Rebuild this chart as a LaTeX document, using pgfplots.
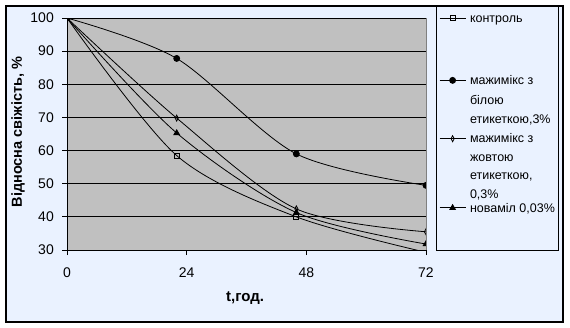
\documentclass[border=0pt]{standalone}
\usepackage{fontspec}
\setmainfont{Liberation Sans}
\usepackage{pgfplots}
\pgfplotsset{compat=1.18}
\definecolor{bgblue}{RGB}{234,242,255}
\definecolor{plotgray}{RGB}{192,192,192}
\definecolor{bordgray}{RGB}{128,128,128}
\newcommand{\legtext}[3]{\parbox[t][#1][t]{90pt}{\fontsize{12.5pt}{#2}\selectfont\strut #3}}
\begin{document}
\begin{tikzpicture}
\useasboundingbox (0,0) rectangle (570pt,327pt);
\fill[white] (0,0) rectangle (570pt,327pt);
\draw[black, line width=1.6pt, fill=bgblue] (6pt,5pt) rectangle (563pt,321pt);
\draw[black, line width=0.9pt] (436pt,77pt) rectangle (558pt,321pt);
\begin{axis}[
  at={(67pt,77pt)}, anchor=south west,
  scale only axis, width=359pt, height=232pt,
  xmin=0, xmax=72, ymin=30, ymax=100,
  xtick={0,24,48,72}, ytick={30,40,50,60,70,80,90,100},
  axis x line*=bottom, axis y line*=left,
  axis line style={black, line width=0.9pt, -},
  axis background/.style={fill=plotgray, draw=bordgray, line width=0.9pt},
  ymajorgrids, major grid style={black, line width=0.9pt},
  tick align=outside, major tick length=5pt,
  tick style={black, line width=0.9pt},
  /pgf/number format/assume math mode=true,
  ticklabel style={font=\fontsize{14pt}{16pt}\selectfont},
  yticklabel style={inner sep=0pt, xshift=-8pt},
  xticklabel style={inner sep=0pt, yshift=-13pt},
  every axis y label/.style={at={(axis description cs:-0.1365,0.5086)}, rotate=90, anchor=center, font=\fontsize{14.5pt}{16pt}\selectfont\bfseries},
  every axis x label/.style={at={(axis description cs:0.496,-0.207)}, anchor=center, font=\fontsize{15pt}{16pt}\selectfont\bfseries},
  ylabel={Відносна свіжість, \%},
  xlabel={t,год.},
  clip marker paths=true,
  legend style={draw=none, fill=none, at={(439pt-67pt,320.5pt-77pt)}, anchor=north west, inner sep=0pt, row sep=0pt, column sep=4pt, nodes={inner sep=0pt, text depth=}, cells={anchor=base west}},
  legend image code/.code={\draw[mark repeat=2,mark phase=2,yshift=4.3pt,#1] plot coordinates {(0pt,0pt) (13pt,0pt) (26pt,0pt)};},
  every axis plot/.append style={black, line width=0.8pt, smooth, tension=0.5},
]
\addplot[mark=square, mark size=2.5pt, mark options={fill=none, line width=0.8pt}] coordinates {(0,100) (22,58.5) (46,40) (72,29.3)};
\addlegendentry{\legtext{62pt}{19.5pt}{контроль}}
\addplot[mark=*, mark size=3pt] coordinates {(0,100) (22,87.8) (46,59) (72,49.5)};
\addlegendentry{\legtext{59pt}{19.5pt}{мажимікс з\\білою\\етикеткою,3\%}}
\addplot[mark=diamond, mark size=3pt, mark options={fill=none, line width=0.8pt, xscale=0.7}] coordinates {(0,100) (22,69.8) (46,42.4) (72,35.5)};
\addlegendentry{\legtext{68.5pt}{18.5pt}{мажимікс з\\жовтою\\етикеткою,\\0,3\%}}
\addplot[mark=triangle*, mark size=3.2pt] coordinates {(0,100) (22,65.3) (46,41.3) (72,31.8)};
\addlegendentry{\legtext{20pt}{19.5pt}{новаміл 0,03\%}}
\end{axis}
\end{tikzpicture}
\end{document}
